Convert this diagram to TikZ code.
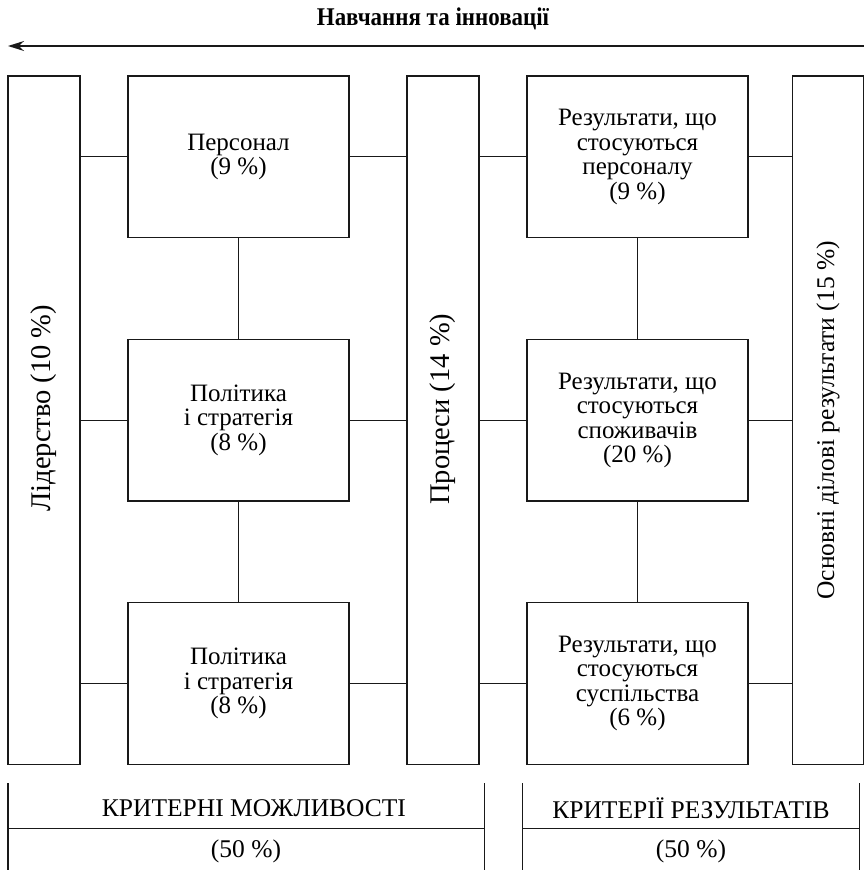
\documentclass[tikz,border=0pt]{standalone}
\usepackage{fontspec}
\setmainfont{Liberation Serif}
\newfontfamily\titlefont[FakeStretch=0.9]{Liberation Serif Bold}
\usetikzlibrary{arrows.meta}
\tikzset{
  box/.style={draw=black!90, line width=1.3pt, inner sep=0pt, align=center,
    font=\fontsize{25}{24.5}\selectfont},
  colbox/.style={box, minimum width=72pt, minimum height=688.5pt,
    font=\fontsize{28.5}{28}\selectfont},
  cellbox/.style={box, minimum width=221pt, minimum height=161.5pt},
  conn/.style={draw=black!90, line width=1.3pt},
  lbl/.style={font=\fontsize{25.5}{26}\selectfont, inner sep=0pt}
}
\begin{document}
\begin{tikzpicture}[x=1pt,y=-1pt]
\useasboundingbox (0,0) rectangle (864,870);
% title and arrow
\node[font=\titlefont\fontsize{25.5}{26}\selectfont, inner sep=0pt] (title) at (433,19) {Навчання та інновації};
\coordinate (arrR) at (866,46);
\coordinate (arrL) at (8,46);
\draw[conn, -{Stealth[length=16pt,width=10pt]}] (arrR) -- (arrL);
% columns
\node[colbox] (L) at (44,420.25) {\rotatebox{90}{\hspace*{24pt}Лідерство (10 \%)}};
\node[colbox] (Pr) at (443,420.25) {\rotatebox{90}{\hspace*{22pt}Процеси (14 \%)}};
\node[colbox, minimum width=71pt, font=\fontsize{25.5}{26}\selectfont] (Rc) at (828,420.25) {\rotatebox{90}{Основні ділові результати (15 \%)}};
% left cells
\node[cellbox] (P1) at (238.5,156.75) {Персонал\\(9 \%)};
\node[cellbox] (P2) at (238.5,420.25) {Політика\\і стратегія\\(8 \%)};
\node[cellbox] (P3) at (238.5,683.5) {Політика\\і стратегія\\(8 \%)};
% right cells
\node[cellbox] (R1) at (637.5,156.75) {Результати, що\\стосуються\\персоналу\\(9 \%)};
\node[cellbox] (R2) at (637.5,420.25) {Результати, що\\стосуються\\споживачів\\(20 \%)};
\node[cellbox] (R3) at (637.5,683.5) {Результати, що\\стосуються\\суспільства\\(6 \%)};
% connectors
\foreach \c in {P1,P2,P3}{
  \draw[conn] (\c.west -| L.east) -- (\c.west);
  \draw[conn] (\c.east) -- (\c.east -| Pr.west);
}
\foreach \c in {R1,R2,R3}{
  \draw[conn] (\c.west -| Pr.east) -- (\c.west);
  \draw[conn] (\c.east) -- (\c.east -| Rc.west);
}
\draw[conn] (P1.south) -- (P2.north);
\draw[conn] (P2.south) -- (P3.north);
\draw[conn] (R1.south) -- (R2.north);
\draw[conn] (R2.south) -- (R3.north);
% bottom brackets
\coordinate (b1a) at (8,783); \coordinate (b1b) at (8,871);
\coordinate (b2a) at (484.3,783); \coordinate (b2b) at (484.3,871);
\coordinate (b3a) at (522.7,783); \coordinate (b3b) at (522.7,871);
\coordinate (b4a) at (859.3,783); \coordinate (b4b) at (859.3,871);
\coordinate (h1a) at (8,828.7); \coordinate (h1b) at (484.3,828.7);
\coordinate (h2a) at (522.7,828.7); \coordinate (h2b) at (859.3,828.7);
\draw[conn] (b1a) -- (b1b);
\draw[conn] (b2a) -- (b2b);
\draw[conn] (b3a) -- (b3b);
\draw[conn] (b4a) -- (b4b);
\draw[conn] (h1a) -- (h1b);
\draw[conn] (h2a) -- (h2b);
\node[lbl] (k1) at (254,808) {КРИТЕРНІ МОЖЛИВОСТІ};
\node[lbl] (k2) at (246,851) {(50 \%)};
\node[lbl] (k3) at (691,808) {КРИТЕРІЇ РЕЗУЛЬТАТІВ};
\node[lbl] (k4) at (691,851) {(50 \%)};
\end{tikzpicture}
\end{document}
